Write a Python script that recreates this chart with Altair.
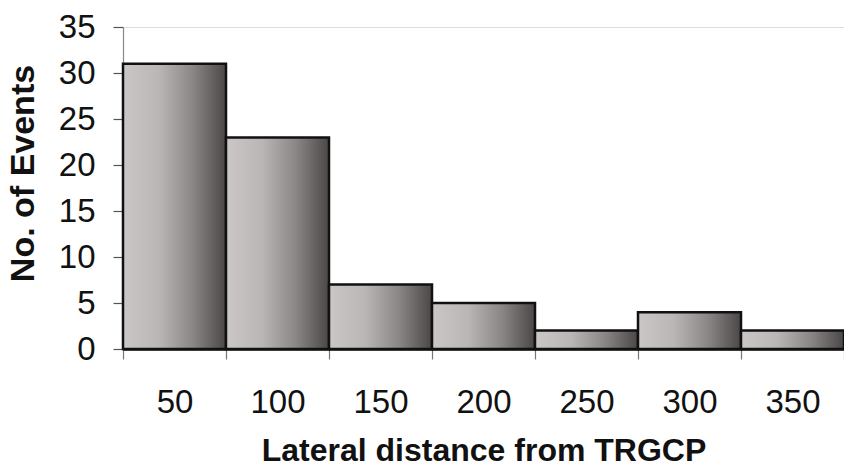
import altair as alt
import pandas as pd

distance = ["50", "100", "150", "200", "250", "300", "350"]
events = [31, 23, 7, 5, 2, 4, 2]
y_ticks = [0, 5, 10, 15, 20, 25, 30, 35]

df = pd.DataFrame({"distance": distance, "events": events})

gradient = alt.Gradient(
    gradient="linear",
    stops=[
        alt.GradientStop(color="#cbc7c7", offset=0),
        alt.GradientStop(color="#bab6b6", offset=0.35),
        alt.GradientStop(color="#8a8686", offset=0.68),
        alt.GradientStop(color="#4b4747", offset=1),
    ],
    x1=0, x2=1, y1=0, y2=0,
)

FONT = "Liberation Sans"

chart = alt.Chart(df).mark_bar(
    fill=gradient, stroke="#111111", strokeWidth=2.5
).encode(
    x=alt.X(
        "distance:N",
        sort=distance,
        scale=alt.Scale(paddingInner=0, paddingOuter=0),
        axis=alt.Axis(
            title="Lateral distance from TRGCP",
            labelAngle=0,
            tickBand="extent",
            tickSize=10,
            tickColor="#777777",
            tickWidth=1.2,
            domainColor="#111111",
            domainWidth=2.5,
            labelFont=FONT,
            labelFontSize=33,
            labelColor="#111111",
            labelPadding=27,
            titleFont=FONT,
            titleFontSize=32,
            titleFontWeight="bold",
            titleColor="#111111",
            titleBaseline="alphabetic",
            titleY=111,
        ),
    ),
    y=alt.Y(
        "events:Q",
        scale=alt.Scale(domain=[0, 35], nice=False, zero=True),
        axis=alt.Axis(
            values=y_ticks,
            title="No. of Events",
            grid=False,
            tickSize=10,
            tickColor="#555555",
            tickWidth=1.2,
            domainColor="#888888",
            domainWidth=1.2,
            labelFont=FONT,
            labelFontSize=33,
            labelColor="#111111",
            labelPadding=18,
            titleFont=FONT,
            titleFontSize=34,
            titleFontWeight="bold",
            titleColor="#111111",
            titleAngle=270,
            titleBaseline="alphabetic",
            titleX=-90,
            titleY=146,
        ),
    ),
).properties(
    width=721,
    height=322,
    padding={"left": 123, "top": 27, "right": 0, "bottom": 118},
    autosize="none",
).configure_view(stroke=None).configure(background="white")

chart.save("out.html", embed_options={"renderer": "svg", "actions": False})
